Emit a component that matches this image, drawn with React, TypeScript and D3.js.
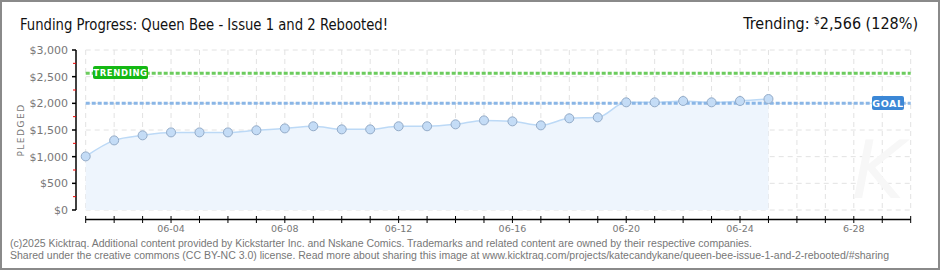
import React from "react";
import * as d3 from "d3";

const dates = ["06-01","06-02","06-03","06-04","06-05","06-06","06-07","06-08","06-09","06-10","06-11","06-12","06-13","06-14","06-15","06-16","06-17","06-18","06-19","06-20","06-21","06-22","06-23","06-24","06-25"];
const pledged = [1005,1305,1400,1455,1455,1455,1495,1530,1570,1512,1512,1570,1570,1606,1680,1662,1587,1719,1737,2019,2019,2044,2019,2044,2081];
const yTicks = [0,500,1000,1500,2000,2500,3000];
const xLabelDays = [3,7,11,15,19,23,27];
const xLabels = ["06-04","06-08","06-12","06-16","06-20","06-24","6-28"];
const goal = 2000;
const trending = 2566;
const totalDays = 30;

const W = 940, H = 270;

export default function App() {
  const x = d3.scaleLinear().domain([0, totalDays - 1]).range([85.7, 910.7]);
  const y = d3.scaleLinear().domain([0, 3000]).range([210, 50]);
  const pts = pledged.map((v, i) => [x(i), y(v)] as [number, number]);
  const line = d3.line().curve(d3.curveMonotoneX)(pts) || "";
  const area = d3.area<[number, number]>().curve(d3.curveMonotoneX).x(d => d[0]).y0(y(0)).y1(d => d[1])(pts) || "";
  const days = d3.range(totalDays);
  const minor = d3.range(250, 3000, 500);
  const fmt = (v: number) => "$" + d3.format(",")(v);
  return (
    <svg width={W} height={H} style={{ position: "absolute", left: 0, top: 0, background: "#fff" }}>
      <rect x={1} y={1} width={W - 2} height={H - 2} fill="#fff" stroke="#8a8a8a" strokeWidth={2} />
      <text x={20} y={30} fontFamily="DejaVu Sans Condensed" fontSize={16} fill="#111" textLength={368} lengthAdjust="spacingAndGlyphs">Funding Progress: Queen Bee - Issue 1 and 2 Rebooted!</text>
      <text x={918} y={29} textAnchor="end" fontFamily="DejaVu Sans Condensed" fontSize={16} fill="#111">
        <tspan>Trending:  </tspan>
        <tspan fontSize={10} dy={-5}>$</tspan>
        <tspan dy={5}>2,566 (128%)</tspan>
      </text>
      <text transform="translate(24,130) rotate(-90)" textAnchor="middle" fontFamily="DejaVu Sans" fontSize={9} fill="#777" letterSpacing={1.5}>PLEDGED</text>
      {/* grid */}
      <g stroke="#e2e2e2" strokeDasharray="5,4" strokeWidth={1}>
        {days.map(d => <line key={"v" + d} x1={x(d)} x2={x(d)} y1={50} y2={210} />)}
        {yTicks.map(t => <line key={"h" + t} x1={x(0)} x2={x(totalDays - 1)} y1={y(t)} y2={y(t)} />)}
      </g>
      {/* area and line */}
      <path d={area} fill="#eef5fd" />
      <path d={line} fill="none" stroke="#bcd9f6" strokeWidth={1.5} />
      {/* reference lines */}
      <line x1={x(0)} x2={x(totalDays - 1)} y1={y(trending)} y2={y(trending)} stroke="#6ccc5e" strokeWidth={3} strokeDasharray="4,2" />
      <line x1={x(0)} x2={x(totalDays - 1)} y1={y(goal)} y2={y(goal)} stroke="#8ab6e6" strokeWidth={3} strokeDasharray="4,2" />
      {pts.map((p, i) => <circle key={i} cx={p[0]} cy={p[1]} r={4.5} fill="#c4dcf6" stroke="#93abc8" strokeWidth={1} />)}
      {/* badges */}
      <rect x={93} y={66} width={55} height={13} rx={2} fill="#14b814" />
      <text x={120.5} y={76} textAnchor="middle" fontFamily="DejaVu Sans" fontSize={8.5} fontWeight="bold" fill="#fff" letterSpacing={0.6}>TRENDING</text>
      <rect x={872} y={96} width={32} height={14} rx={2} fill="#3b87d6" />
      <text x={888} y={107} textAnchor="middle" fontFamily="DejaVu Sans" fontSize={9.5} fontWeight="bold" fill="#fff" letterSpacing={0.6}>GOAL</text>
      {/* y axis */}
      <line x1={76} x2={76} y1={50} y2={210} stroke="#000" strokeWidth={1.5} />
      {yTicks.map(t => <line key={"yt" + t} x1={72} x2={76} y1={y(t)} y2={y(t)} stroke="#000" strokeWidth={1.5} />)}
      {minor.map(t => <line key={"ym" + t} x1={73} x2={76} y1={y(t)} y2={y(t)} stroke="#e00" strokeWidth={1} />)}
      {yTicks.map(t => <text key={"yl" + t} x={68} y={y(t) + 4} textAnchor="end" fontFamily="DejaVu Sans" fontSize={11} fill="#777">{fmt(t)}</text>)}
      {/* x axis */}
      <line x1={x(0)} x2={x(totalDays - 1)} y1={219.5} y2={219.5} stroke="#000" strokeWidth={1.5} />
      {days.map(d => <line key={"xt" + d} x1={x(d)} x2={x(d)} y1={216} y2={223} stroke="#000" strokeWidth={1} />)}
      {xLabelDays.map((d, i) => <text key={"xl" + d} x={x(d)} y={232} textAnchor="middle" fontFamily="DejaVu Sans" fontSize={9.5} fill="#777">{xLabels[i]}</text>)}
      {/* watermark */}
      <text x={852} y={198} fontFamily="DejaVu Sans" fontStyle="italic" fontSize={80} fill="#f7f7f7">K</text>
      {/* footer */}
      <text x={10} y={247} fontFamily="Liberation Sans" fontSize={10} fill="#777" textLength={742} lengthAdjust="spacingAndGlyphs">(c)2025 Kicktraq. Additional content provided by Kickstarter Inc. and Nskane Comics. Trademarks and related content are owned by their respective companies.</text>
      <text x={10} y={259} fontFamily="Liberation Sans" fontSize={10} fill="#777" textLength={879} lengthAdjust="spacingAndGlyphs">Shared under the creative commons (CC BY-NC 3.0) license. Read more about sharing this image at www.kicktraq.com/projects/katecandykane/queen-bee-issue-1-and-2-rebooted/#sharing</text>
    </svg>
  );
}
